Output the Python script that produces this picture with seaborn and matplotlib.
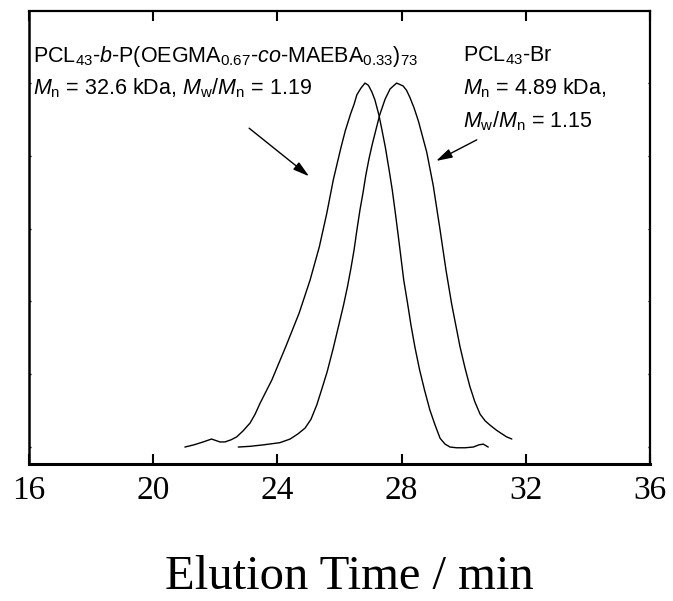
import matplotlib
matplotlib.use("Agg")
import matplotlib.pyplot as plt
import seaborn as sns
import pandas as pd

# GPC traces (elution time in min, normalised RI signal)
copolymer_time = [21.02, 21.31, 21.61, 21.88, 22.15, 22.31, 22.51, 22.69, 22.89, 23.12,
                  23.28, 23.44, 23.82, 24.27, 24.70, 25.05, 25.35, 25.59, 25.80, 26.05,
                  26.19, 26.36, 26.47, 26.56, 26.69, 26.82, 26.93, 27.04, 27.14, 27.27,
                  27.37, 27.48, 27.60, 27.70, 27.80, 27.89, 27.98, 28.07, 28.19, 28.30,
                  28.43, 28.58, 28.74, 28.91, 29.08, 29.24, 29.40, 29.56, 29.77, 30.04,
                  30.31, 30.49, 30.63, 30.79]
copolymer_signal = [0.00, 0.03, 0.07, 0.11, 0.07, 0.07, 0.10, 0.14, 0.22, 0.33,
                    0.45, 0.60, 0.92, 1.38, 1.84, 2.29, 2.75, 3.21, 3.67, 4.12,
                    4.35, 4.58, 4.71, 4.84, 4.93, 5.00, 4.97, 4.88, 4.77, 4.56,
                    4.35, 4.11, 3.80, 3.53, 3.21, 2.91, 2.60, 2.29, 1.98, 1.68,
                    1.37, 1.06, 0.78, 0.51, 0.30, 0.12, 0.04, 0.00, -0.01, -0.01,
                    0.00, 0.03, 0.04, 0.00]

macro_time = [22.74, 23.12, 23.55, 24.08, 24.41, 24.66, 24.89, 25.08, 25.27, 25.44,
              25.60, 25.80, 25.98, 26.13, 26.26, 26.37, 26.47, 26.56, 26.66, 26.76,
              26.85, 26.95, 27.05, 27.18, 27.30, 27.47, 27.63, 27.84, 28.05, 28.16,
              28.27, 28.40, 28.54, 28.81, 29.02, 29.24, 29.43, 29.61, 29.88, 30.04,
              30.20, 30.36, 30.53, 30.69, 30.85, 31.06, 31.20, 31.38, 31.55]
macro_signal = [0.00, 0.01, 0.03, 0.06, 0.11, 0.18, 0.26, 0.38, 0.58, 0.81,
                1.03, 1.36, 1.68, 1.95, 2.21, 2.46, 2.71, 2.98, 3.26, 3.50,
                3.74, 3.96, 4.15, 4.37, 4.57, 4.78, 4.92, 5.00, 4.96, 4.90,
                4.80, 4.66, 4.48, 4.05, 3.59, 2.98, 2.43, 1.97, 1.38, 1.09,
                0.83, 0.62, 0.45, 0.36, 0.30, 0.23, 0.19, 0.14, 0.11]

x_ticks = [16, 20, 24, 28, 32, 36]
x_label = "Elution Time / min"

sns.set_theme(style="ticks", rc={
    "text.color": "black",
    "axes.labelcolor": "black",
    "axes.edgecolor": "black",
    "xtick.color": "black",
    "ytick.color": "black",
})
plt.rcParams["font.family"] = ["Liberation Sans", "DejaVu Sans"]
plt.rcParams["mathtext.fontset"] = "custom"
plt.rcParams["mathtext.rm"] = "Liberation Sans"
plt.rcParams["mathtext.it"] = "Liberation Sans:italic"
plt.rcParams["mathtext.bf"] = "Liberation Sans:bold"

df = pd.concat([
    pd.DataFrame({"time": copolymer_time, "signal": copolymer_signal, "sample": "copolymer"}),
    pd.DataFrame({"time": macro_time, "signal": macro_signal, "sample": "macroinitiator"}),
])

fig = plt.figure(figsize=(6.73, 6.01), dpi=100)
ax = fig.add_axes([29 / 673, 137 / 601, 621 / 673, 453 / 601])

sns.lineplot(data=df, x="time", y="signal", units="sample", estimator=None,
             sort=False, color="black", linewidth=1.0, ax=ax)
for line in ax.get_lines():
    line.set_solid_joinstyle("round")

ax.set_xlim(16, 36)
ax.set_ylim(-0.233, 5.99)
ax.set_xticks(x_ticks)
ax.set_xticklabels([str(t) for t in x_ticks], family="Liberation Serif", fontsize=24)
ax.set_yticks([0, 1, 2, 3, 4, 5])
ax.set_yticklabels([])
ax.set_ylabel("")
ax.set_xlabel(x_label, family="Liberation Serif", fontsize=35)
ax.xaxis.set_label_coords(0.516, -0.276)
ax.xaxis.label.set_va("baseline")

ax.tick_params(axis="x", which="major", direction="in", length=7, width=1.5,
               pad=8, top=True, labeltop=False)
ax.tick_params(axis="y", which="major", direction="in", length=1.5, width=1.0,
               left=True, right=True)
for side, lw in {"bottom": 2.2, "left": 1.8, "top": 1.6, "right": 1.6}.items():
    ax.spines[side].set_visible(True)
    ax.spines[side].set_linewidth(lw)
    ax.spines[side].set_color("black")

# sample annotations
fs = 15.5
ax.text(0.006, 0.888, r"PCL$_{43}$-$b$-P(OEGMA$_{0.67}$-$co$-MAEBA$_{0.33}$)$_{73}$",
        transform=ax.transAxes, fontsize=fs, va="baseline", ha="left")
ax.text(0.006, 0.815, r"$M_\mathrm{n}$ = 32.6 kDa, $M_\mathrm{w}$/$M_\mathrm{n}$ = 1.19",
        transform=ax.transAxes, fontsize=fs, va="baseline", ha="left")
ax.text(0.699, 0.888, r"PCL$_{43}$-Br",
        transform=ax.transAxes, fontsize=fs, va="baseline", ha="left")
ax.text(0.699, 0.815, r"$M_\mathrm{n}$ = 4.89 kDa,",
        transform=ax.transAxes, fontsize=fs, va="baseline", ha="left")
ax.text(0.699, 0.742, r"$M_\mathrm{w}$/$M_\mathrm{n}$ = 1.15",
        transform=ax.transAxes, fontsize=fs, va="baseline", ha="left")

arrow = dict(arrowstyle="-|>,head_length=0.7,head_width=0.2", color="black",
             lw=1.0, mutation_scale=14, shrinkA=0, shrinkB=0)
ax.annotate("", xy=(25.02, 3.72), xytext=(23.09, 4.38), arrowprops=arrow)
ax.annotate("", xy=(29.11, 3.93), xytext=(30.42, 4.22), arrowprops=arrow)

fig.savefig("out.png", dpi=100)
